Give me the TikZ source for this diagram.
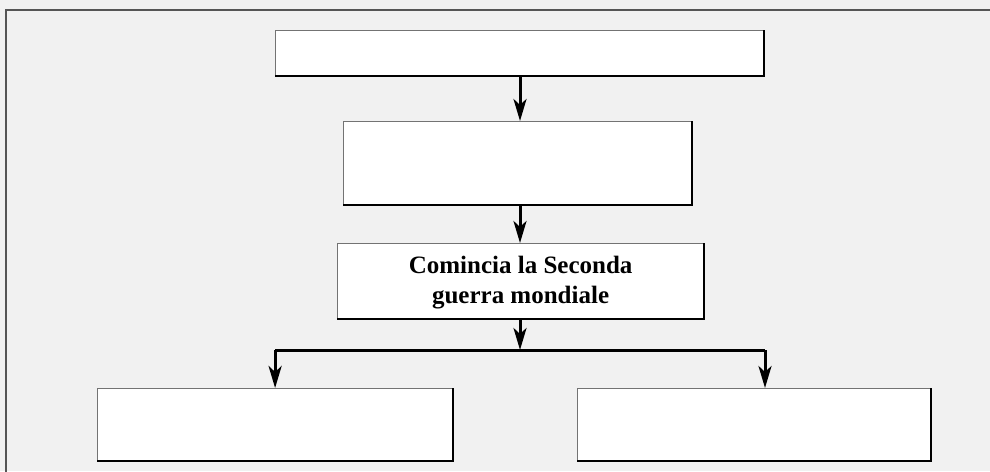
\documentclass[tikz,border=0pt]{standalone}
\usepackage{fontspec}
\setmainfont{Liberation Serif}
\usetikzlibrary{arrows.meta,calc}
\definecolor{bg}{HTML}{F1F1F1}
\definecolor{frame}{HTML}{555555}
\tikzset{
  box/.style={draw=black!55, fill=white, line width=1.2pt, inner sep=0pt, anchor=north west},
  edge/.style={line width=1.6pt, black},
  arr/.style={line width=3pt, -{Stealth[length=22pt,width=13pt,inset=6pt]}},
  conn/.style={line width=3pt},
}
\begin{document}
\begin{tikzpicture}[x=1pt,y=-1pt]
\useasboundingbox (0,0) rectangle (990,471);
\fill[bg] (0,0) rectangle (990,471);
\draw[frame, line width=2pt] (6,490) -- (6,10) -- (1010,10);
\node[box, minimum width=488pt, minimum height=45pt] (b1) at (275,30) {};
\node[box, minimum width=348pt, minimum height=83pt] (b2) at (343,121) {};
\node[box, minimum width=366pt, minimum height=75pt] (b3) at (337,243) {};
\node[box, minimum width=355pt, minimum height=72pt] (bl) at (97,388) {};
\node[box, minimum width=353pt, minimum height=72pt] (br) at (577,388) {};
\foreach \n in {b1,b2,b3,bl,br}{
  \draw[edge] (\n.south west) -- (\n.south east) -- (\n.north east);
}
\node[font=\fontsize{25}{30}\selectfont\bfseries, align=center] (t3) at ($(b3.center)+(0,1)$) {Comincia la Seconda\\guerra mondiale};
\coordinate (a1) at (520,0);
\coordinate (j) at (520,350);
\coordinate (r) at (765,350);
\draw[arr] (b1.south -| a1) -- (b2.north -| a1);
\draw[arr] (b2.south -| a1) -- (b3.north -| a1);
\draw[arr] (b3.south -| a1) -- (j);
\draw[conn] (bl.north |- j) -- (r);
\draw[arr] (bl.north |- j) -- (bl.north);
\draw[arr] (r) -- (br.north -| r);
\end{tikzpicture}
\end{document}
